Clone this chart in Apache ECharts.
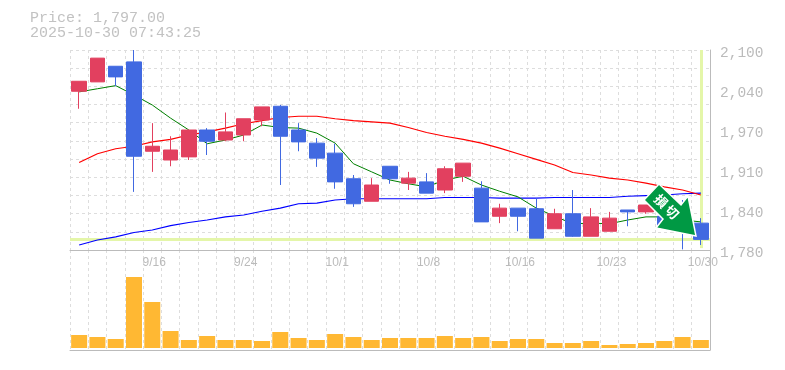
<!DOCTYPE html>
<html>
<head>
<meta charset="utf-8">
<style>
html,body{margin:0;padding:0;background:#fff;}
#chart{width:785px;height:370px;}
</style>
<script src="https://cdn.jsdelivr.net/npm/echarts@6/dist/echarts.min.js"></script>
</head>
<body>
<div id="chart"></div>
<script>
var dates = ['9/9','9/10','9/11','9/12','9/16','9/17','9/18','9/19','9/22','9/24','9/25','9/26','9/29','9/30','10/1','10/2','10/3','10/6','10/7','10/8',
    '10/9','10/10','10/14','10/15','10/16','10/17','10/20','10/21','10/22','10/23','10/24','10/27','10/28','10/29','10/30'];

var open  = [2034,2049,2074,2081,1938,1924,1929,1972,1956,1964,1988,2010,1972,1951,1935,1894,1858,1914,1887,1889,1876,1898,1879,1834,1847,1846,1814,1838,1802,1810,1844,1841,1834,1852,1823];
var close = [2050,2087,2057,1930,1946,1940,1972,1954,1969,1990,2009,1962,1953,1927,1889,1854,1884,1894,1895,1871,1910,1919,1825,1847,1834,1799,1838,1802,1833,1831,1841,1852,1820,1815,1797];
var low   = [2006,2049,2042,1873,1905,1914,1924,1932,1954,1954,1978,1884,1938,1913,1878,1849,1858,1886,1876,1871,1871,1889,1825,1823,1810,1799,1814,1801,1802,1810,1818,1838,1820,1781,1788];
var high  = [2050,2087,2074,2100,1983,1962,1972,1975,2000,1990,2009,2012,1983,1959,1950,1900,1895,1914,1905,1903,1914,1919,1890,1854,1847,1863,1846,1876,1847,1841,1844,1852,1840,1860,1831];

var maShort = [2033,2038,2043,2028,2012,1991,1972,1950,1956,1964,1980,1976,1975,1967,1951,1918,1905,1892,1886,1881,1892,1898,1884,1874,1865,1847,1834,1822,1823,1822,1828,1833,1833,1828,1825];
var maMid   = [1920,1934,1942,1946,1953,1957,1964,1969,1975,1982,1987,1992,1994,1994,1990,1987,1985,1983,1976,1968,1962,1957,1951,1943,1934,1925,1916,1904,1900,1895,1892,1887,1881,1876,1868];
var maLong  = [1788,1796,1801,1808,1812,1819,1824,1828,1833,1836,1842,1847,1854,1855,1860,1862,1862,1862,1862,1862,1864,1864,1864,1863,1863,1863,1864,1864,1864,1864,1866,1867,1868,1870,1871];

var volume = [13,11,9,71,46,17,8,12,8,8,7,16,10,8,14,11,8,10,10,10,12,10,11,7,9,9,5,5,7,3,4,5,7,11,8];

var yTickValues = [1780,1844,1908,1972,2036,2100];
var yTickLabels = ['1,780','1,840','1,910','1,970','2,040','2,100'];
var lastPrice = 1797;

var gridColor = '#dddddd';
var axisColor = '#bbbbbb';
var monoFont = '"Liberation Mono","DejaVu Sans Mono",monospace';

var candleData = [];
for (var i = 0; i < dates.length; i++) {
    candleData.push([open[i], close[i], low[i], high[i]]);
}

var labelIndex = function (index) {
    return index % 5 === 4;
};

var chart = echarts.init(document.getElementById('chart'), null, {renderer: 'canvas'});
chart.setOption({
    animation: false,
    backgroundColor: '#fff',
    title: {
        text: 'Price: 1,797.00\n2025-10-30 07:43:25',
        left: 30,
        top: 11,
        padding: 0,
        textStyle: {
            fontFamily: monoFont,
            fontSize: 15,
            lineHeight: 15,
            fontWeight: 'normal',
            color: '#c2c2c2'
        }
    },
    grid: [
        {left: 70, top: 50, width: 640, height: 200},
        {left: 70, top: 250, width: 640, height: 100}
    ],
    xAxis: [{
        type: 'category',
        gridIndex: 0,
        data: dates,
        boundaryGap: true,
        axisLine: {show: true, onZero: false, lineStyle: {color: axisColor, width: 1}},
        axisTick: {show: false},
        axisLabel: {
            interval: labelIndex,
            hideOverlap: false,
            showMaxLabel: true,
            color: axisColor,
            fontFamily: '"Liberation Sans",sans-serif',
            fontSize: 12,
            margin: 7,
            padding: [0, 0, 0, 4]
        },
        splitLine: {show: true, interval: 0, lineStyle: {color: gridColor, type: [3, 3], width: 1}}
    }, {
        type: 'category',
        gridIndex: 1,
        data: dates,
        boundaryGap: true,
        axisLine: {show: true, onZero: false, lineStyle: {color: axisColor, width: 1}},
        axisTick: {show: false},
        axisLabel: {show: false},
        splitLine: {show: true, interval: 0, lineStyle: {color: gridColor, type: [3, 3], width: 1}}
    }],
    yAxis: [{
        type: 'value',
        gridIndex: 0,
        position: 'right',
        min: 1780,
        max: 2100,
        axisLine: {show: true, lineStyle: {color: axisColor, width: 1}},
        axisTick: {show: false},
        splitLine: {show: false},
        axisLabel: {
            customValues: yTickValues,
            formatter: function (value) {
                return yTickLabels[yTickValues.indexOf(value)];
            },
            color: axisColor,
            fontFamily: monoFont,
            fontSize: 14.5,
            margin: 10,
            verticalAlign: 'top',
            lineHeight: 6
        }
    }, {
        // only the dashed rows of the price panel
        type: 'value',
        gridIndex: 0,
        position: 'left',
        min: 0,
        max: 11,
        interval: 1,
        axisLine: {show: false},
        axisTick: {show: false},
        axisLabel: {show: false},
        splitLine: {show: true, lineStyle: {color: gridColor, type: [3, 3], width: 1}}
    }, {
        type: 'value',
        gridIndex: 1,
        position: 'right',
        min: -2,
        max: 98,
        axisLine: {show: true, lineStyle: {color: axisColor, width: 1}},
        axisTick: {show: false},
        axisLabel: {show: false},
        splitLine: {show: false}
    }],
    series: [{
        type: 'line',
        xAxisIndex: 0,
        yAxisIndex: 0,
        z: 1,
        data: [],
        markLine: {
            z: 1,
            silent: true,
            symbol: 'none',
            animation: false,
            label: {show: false},
            lineStyle: {color: '#e4f6a9', width: 3, type: 'solid'},
            data: [
                {yAxis: lastPrice},
                [{coord: [dates[34], 2100]}, {coord: [dates[34], 1783]}]
            ]
        }
    }, {
        name: 'long',
        type: 'line',
        z: 2,
        data: maLong,
        showSymbol: false,
        lineStyle: {color: '#0000ff', width: 1.2}
    }, {
        name: 'mid',
        type: 'line',
        z: 2,
        data: maMid,
        showSymbol: false,
        lineStyle: {color: '#ff0000', width: 1.2}
    }, {
        name: 'short',
        type: 'line',
        z: 2,
        data: maShort,
        showSymbol: false,
        lineStyle: {color: '#008000', width: 1}
    }, {
        type: 'candlestick',
        z: 3,
        data: candleData,
        barWidth: 15,
        itemStyle: {
            color: '#e2405f',
            color0: '#4169e1',
            borderColor: '#e2405f',
            borderColor0: '#4169e1',
            borderWidth: 1
        }
    }, {
        type: 'bar',
        xAxisIndex: 1,
        yAxisIndex: 2,
        data: volume,
        barWidth: 16,
        itemStyle: {color: '#ffb833'}
    }],
    graphic: [{
        type: 'polygon',
        z: 100,
        shape: {
            points: [[659,184],[644,200],[663,219],[656,228],[696,236],[688,196],[681,205]]
        },
        style: {fill: '#009944', stroke: '#ffffff', lineWidth: 1.5}
    }, {
        type: 'text',
        z: 101,
        x: 661,
        y: 201,
        rotation: -Math.PI / 4,
        style: {
            text: '損',
            fill: '#fff',
            fontFamily: '"Noto Sans CJK JP"',
            fontWeight: 'bold',
            fontSize: 13,
            align: 'center',
            verticalAlign: 'middle'
        }
    }, {
        type: 'text',
        z: 101,
        x: 672,
        y: 212,
        rotation: -Math.PI / 4,
        style: {
            text: '切',
            fill: '#fff',
            fontFamily: '"Noto Sans CJK JP"',
            fontWeight: 'bold',
            fontSize: 13,
            align: 'center',
            verticalAlign: 'middle'
        }
    }]
});
</script>
</body>
</html>
